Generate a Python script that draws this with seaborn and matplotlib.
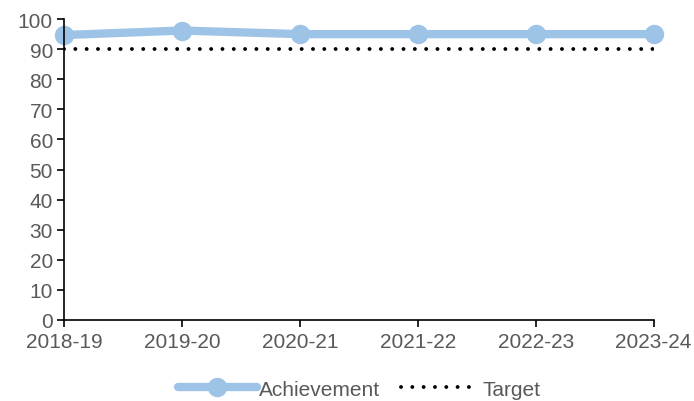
import pandas as pd
import matplotlib.pyplot as plt
import seaborn as sns

years = ['2018-19', '2019-20', '2020-21', '2021-22', '2022-23', '2023-24']
achievement = [94.7, 96.2, 95.0, 95.0, 95.0, 95.0]
target = [90, 90, 90, 90, 90, 90]

df = pd.DataFrame({'Year': years, 'Achievement': achievement, 'Target': target})
df['pos'] = range(len(years))

sns.set_style('white')
plt.rcParams['font.family'] = ['Liberation Sans', 'DejaVu Sans']

fig = plt.figure(figsize=(6.94, 4.02), dpi=100)
ax = fig.add_axes([0.0922, 0.2015, 0.8497, 0.7485])

sns.lineplot(data=df, x='pos', y='Achievement', ax=ax, color='#9DC3E6', linewidth=6,
             marker='o', markersize=14, markeredgewidth=0, label='Achievement',
             solid_capstyle='round', clip_on=False)
sns.lineplot(data=df, x='pos', y='Target', ax=ax, color='black', linewidth=2.8,
             linestyle=(0, (0.01, 2.9)), dash_capstyle='round', label='Target')

ax.set_xlim(0, len(years) - 1)
ax.set_ylim(0, 100)
ax.set_yticks(range(0, 101, 10))
ax.set_xticks(df['pos'])
ax.set_xticklabels(years)
ax.set_xlabel('')
ax.set_ylabel('')

for side in ['top', 'right']:
    ax.spines[side].set_visible(False)
for side in ['left', 'bottom']:
    ax.spines[side].set_color('black')
    ax.spines[side].set_linewidth(1.2)
ax.tick_params(axis='both', colors='black', labelcolor='#595959', labelsize=15,
               length=5, width=1.2, direction='out', left=True, bottom=True)
ax.tick_params(axis='x', pad=4)
ax.tick_params(axis='y', pad=3)

leg = ax.legend(loc='center', bbox_to_anchor=(0.5, -0.23), ncol=2, frameon=False,
                fontsize=15, handlelength=3.8, columnspacing=1.0, handletextpad=0.1)
for t in leg.get_texts():
    t.set_color('#595959')

fig.savefig('out.png', dpi=100)
